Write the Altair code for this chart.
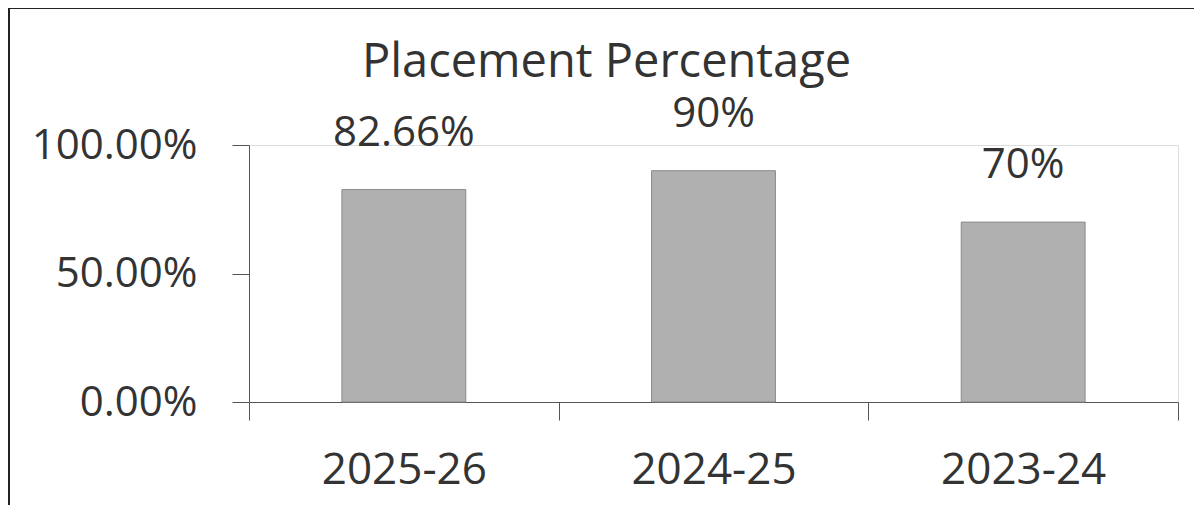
import altair as alt
import pandas as pd

years = ["2025-26", "2024-25", "2023-24"]
placement = [0.8266, 0.90, 0.70]
value_labels = ["82.66%", "90%", "70%"]
y_ticks = [0, 0.5, 1.0]

df = pd.DataFrame({"year": years, "pct": placement, "label": value_labels})

FONT = "Open Sans"
TXT = "#333333"

x_enc = alt.X(
    "year:N",
    sort=years,
    scale=alt.Scale(paddingInner=0, paddingOuter=0),
    axis=alt.Axis(
        title=None,
        labelAngle=0,
        labelFont=FONT,
        labelFontSize=44,
        labelColor=TXT,
        labelPadding=28,
        tickBand="extent",
        tickSize=18,
        tickColor="#555555",
        domainColor="#555555",
        tickWidth=1,
        domainWidth=1,
    ),
)

y_enc = alt.Y(
    "pct:Q",
    scale=alt.Scale(domain=[0, 1], nice=False),
    axis=alt.Axis(
        title=None,
        values=y_ticks,
        format=".2%",
        grid=False,
        labelFont=FONT,
        labelFontSize=42,
        labelColor=TXT,
        labelPadding=35,
        tickSize=17,
        tickColor="#555555",
        domainColor="#555555",
        tickWidth=1,
        domainWidth=1,
    ),
)

bars = alt.Chart(df).mark_bar(
    width=alt.RelativeBandSize(0.4),
    color="#b0b0b0",
    stroke="#8a8a8a",
    strokeWidth=1,
).encode(x=x_enc, y=y_enc)

texts = alt.Chart(df).mark_text(
    font=FONT,
    fontSize=42,
    color=TXT,
    baseline="alphabetic",
    align="center",
    dy=-44,
).encode(x=alt.X("year:N", sort=years), y="pct:Q", text="label:N")

border = alt.Chart(df).mark_rect(
    fill=None, stroke="#222222", strokeWidth=2, clip=False
).encode(
    x=alt.value(-240), x2=alt.value(1100), y=alt.value(-137), y2=alt.value(500)
)

chart = (
    alt.layer(bars, texts, border)
    .properties(
        width=929,
        height=257,
        padding={"left": 241, "top": 137, "right": 16, "bottom": 103},
        autosize=alt.AutoSizeParams(type="none"),
        title=alt.TitleParams(
            "Placement Percentage",
            font=FONT,
            fontSize=47,
            fontWeight="normal",
            color=TXT,
            anchor="middle",
            frame="group",
            baseline="alphabetic",
            offset=0,
            dy=117,
            dx=-107,
        ),
    )
    .configure_view(stroke=None)
    .configure(background="white")
)

chart.save("out.html", embed_options={"renderer": "svg", "actions": False})
